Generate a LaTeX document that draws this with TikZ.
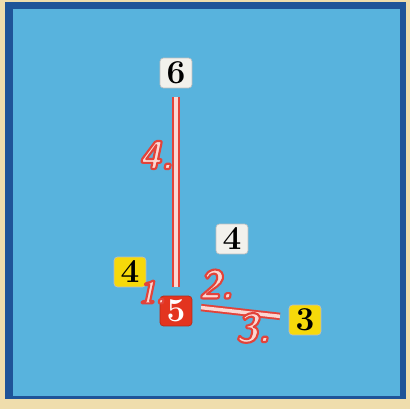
\documentclass[tikz,border=0pt]{standalone}
\usepackage{tikz}
\usetikzlibrary{positioning}
\definecolor{sand}{HTML}{EFDDAC}
\definecolor{rim}{HTML}{1F5498}
\definecolor{pool}{HTML}{58B3DD}
\definecolor{paper}{HTML}{F2F1EC}
\definecolor{sun}{HTML}{F6D90A}
\definecolor{brick}{HTML}{E3341F}
\definecolor{trail}{HTML}{E2433A}
\definecolor{blush}{HTML}{FCD8D3}
\tikzset{
  tile/.style={draw=black!25,line width=.4pt,rounded corners=2pt,minimum width=.64cm,minimum height=.6cm,inner sep=0pt,font=\fontsize{19}{22}\selectfont\bfseries},
  stepno/.style={inner sep=0pt,font=\fontsize{23}{25}\selectfont\sffamily\bfseries\itshape},
  route/.style={line width=1.1pt,draw=trail,double=blush,double distance=2pt,shorten >=5pt,shorten <=5pt}
}
\newcommand{\steplab}[1]{\textcolor{blush}{\special{pdf:literal direct 0.886 0.263 0.227 RG 1.2 w 1 j 2 Tr}#1\special{pdf:literal direct 0 Tr}}}
\begin{document}
\begin{tikzpicture}[x=0.02cm,y=-0.02cm]
      \useasboundingbox (0,0) rectangle (410,409);
      \fill[sand] (0,0) rectangle (410,409);
      \fill[rim] (5,2) rectangle (406,399);
      \fill[pool] (13,9) rectangle (400,396);
      % tiles
      \node[tile,fill=paper] (six) at (176,73) {6};
      \node[tile,fill=paper] (fourw) at (232,239) {4};
      \node[tile,fill=sun] (foury) at (130,272) {4};
      \node[tile,fill=brick,draw=brick!80!black,text=white] (five) at (176,311) {5};
      \node[tile,fill=sun] (three) at (305,320) {3};
      % routes
      \draw[route] (six.south) -- (five.north);
      \draw[route] ([yshift=2.5pt]five.east) -- ([yshift=1.5pt]three.west);
      % step numbers
      \node[stepno] (sfour) at (156,155) {\steplab{4.}};
      \node[stepno,font=\fontsize{18}{20}\selectfont\sffamily\bfseries\itshape] (sone) at (152,292) {\steplab{1.}};
      \node[stepno] (stwo) at (216,284) {\steplab{2.}};
      \node[stepno] (sthree) at (253,328) {\steplab{3.}};
    \end{tikzpicture}
\end{document}
